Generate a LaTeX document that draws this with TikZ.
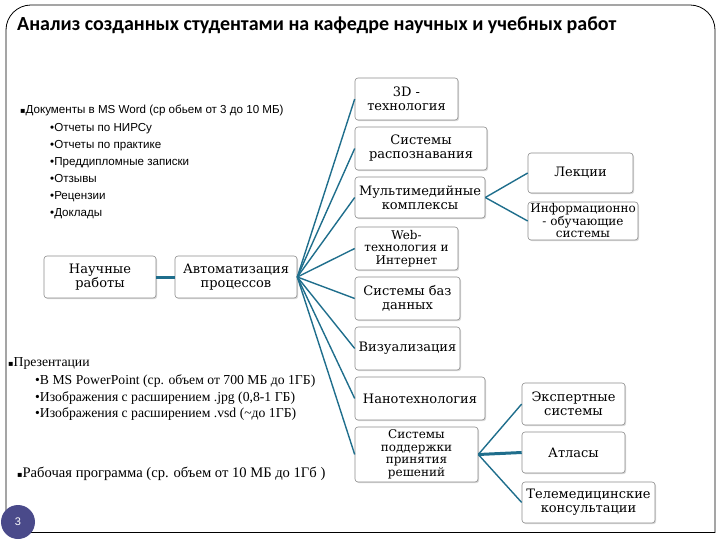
\documentclass[tikz,border=0pt]{standalone}
\usepackage{fontspec}
\setmainfont{Liberation Serif}
\newfontfamily\titlefont{Carlito}
\newfontfamily\boxfont{DejaVu Serif}
\newfontfamily\listsans{Liberation Sans}
\newfontfamily\bulletfont{DejaVu Sans}
\usetikzlibrary{shadows}
\definecolor{conn}{HTML}{1F6E8C}
\definecolor{badge}{HTML}{4A4A8A}
\definecolor{boxline}{HTML}{8C8C8C}
\begin{document}
\begin{tikzpicture}[x=1pt,y=-1pt,
  box/.style={draw=boxline, line width=0.6pt, fill=white, rounded corners=3pt,
    align=center, inner sep=1pt,
    font=\boxfont\fontsize{13}{14}\selectfont,
    drop shadow={shadow xshift=1.2pt, shadow yshift=-1.2pt, opacity=0.3}},
  smallbox/.style={box, font=\boxfont\fontsize{12}{12.5}\selectfont},
  link/.style={draw=conn, line width=1.4pt},
  thicklink/.style={draw=conn, line width=3pt},
  docitem/.style={anchor=base west, inner sep=0pt, font=\listsans\fontsize{11.6}{13}\selectfont},
  seritem/.style={anchor=base west, inner sep=0pt, font=\fontsize{13.7}{15}\selectfont}]
\useasboundingbox (0,0) rectangle (720,540);
% frame
\begin{scope}
  \clip (0,0) rectangle (720,532);
  \draw[line width=0.8pt, rounded corners=25pt] (6,600) -- (6,5) -- (715,5) -- (715,600);
\end{scope}
\draw[line width=0.8pt] (6,532) -- (715,532);
% title
\node[anchor=base west, inner sep=0pt, font=\titlefont\bfseries\fontsize{20}{23}\selectfont] (title) at (17,31)
  {Анализ созданных студентами на кафедре научных и учебных работ};
% documents list
\node[docitem] (d0) at (20,114) {{\bulletfont\fontsize{8}{10}\selectfont ▪}Документы в MS Word (ср обьем от 3 до 10 МБ)};
\node[docitem] (d1) at (50,132) {•Отчеты по НИРСу};
\node[docitem] (d2) at (50,149) {•Отчеты по практике};
\node[docitem] (d3) at (50,166) {•Преддипломные записки};
\node[docitem] (d4) at (50,183) {•Отзывы};
\node[docitem] (d5) at (50,200) {•Рецензии};
\node[docitem] (d6) at (50,217) {•Доклады};
% presentations
\node[seritem] (p0) at (8,366) {{\bulletfont\fontsize{8}{10}\selectfont ▪}Презентации};
\node[seritem] (p1) at (35,384) {•В MS PowerPoint (ср. объем от 700 МБ до 1ГБ)};
\node[seritem] (p2) at (35,401) {•Изображения с расширением .jpg (0,8-1 ГБ)};
\node[seritem] (p3) at (35,417) {•Изображения с расширением .vsd (\textasciitilde до 1ГБ)};
\node[seritem, font=\fontsize{14.6}{16}\selectfont] (w0) at (17,477) {{\bulletfont\fontsize{8}{10}\selectfont ▪}Рабочая программа (ср. объем от 10 МБ до 1Гб )};
% boxes
\node[box, minimum width=112, minimum height=42] (n1) at (100,277) {Научные\\работы};
\node[box, minimum width=122, minimum height=42] (n2) at (236,277) {Автоматизация\\процессов};
\node[box, minimum width=103, minimum height=42] (r1) at (406.5,99) {3D -\\технология};
\node[box, minimum width=132, minimum height=43] (r2) at (421,148.5) {Системы\\распознавания};
\node[box, minimum width=130, minimum height=41] (r3) at (420,197.5) {Мультимедийные\\комплексы};
\node[smallbox, minimum width=103, minimum height=43] (r4) at (406.5,248.5) {Web-\\технология и\\Интернет};
\node[box, minimum width=105, minimum height=43] (r5) at (407.5,298.5) {Системы баз\\данных};
\node[box, minimum width=105, minimum height=43] (r6) at (407.5,348.5) {Визуализация};
\node[box, minimum width=130, minimum height=43] (r7) at (420,398.5) {Нанотехнология};
\node[smallbox, minimum width=123, minimum height=55] (r8) at (416.5,454.5) {Системы\\поддержки\\принятия\\решений};
\node[box, minimum width=105, minimum height=40] (l1) at (580.5,173) {Лекции};
\node[smallbox, minimum width=110, minimum height=38] (l2) at (583,221) {Информационно\\- обучающие\\системы};
\node[box, minimum width=103, minimum height=42] (e1) at (573.5,404) {Экспертные\\системы};
\node[box, minimum width=103, minimum height=41] (e2) at (573.5,452.5) {Атласы};
\node[box, minimum width=133, minimum height=41] (e3) at (588.5,502.5) {Телемедицинские\\консультации};
% connectors
\draw[thicklink] (n1.east) -- (n2.west);
\foreach \t in {r1,r2,r3,r4,r5,r6,r7,r8} \draw[link] (n2.east) -- (\t.west);
\draw[link] (r3.east) -- (l1.west);
\draw[link] (r3.east) -- (l2.west);
\draw[link] (r8.east) -- (e1.west);
\draw[thicklink] (r8.east) -- (e2.west);
\draw[link] (r8.east) -- (e3.west);
% page badge
\node[circle, fill=badge, minimum size=34pt, inner sep=0pt, text=white, font=\listsans\fontsize{11}{13}\selectfont] (pg) at (18,522) {3};
\end{tikzpicture}
\end{document}
